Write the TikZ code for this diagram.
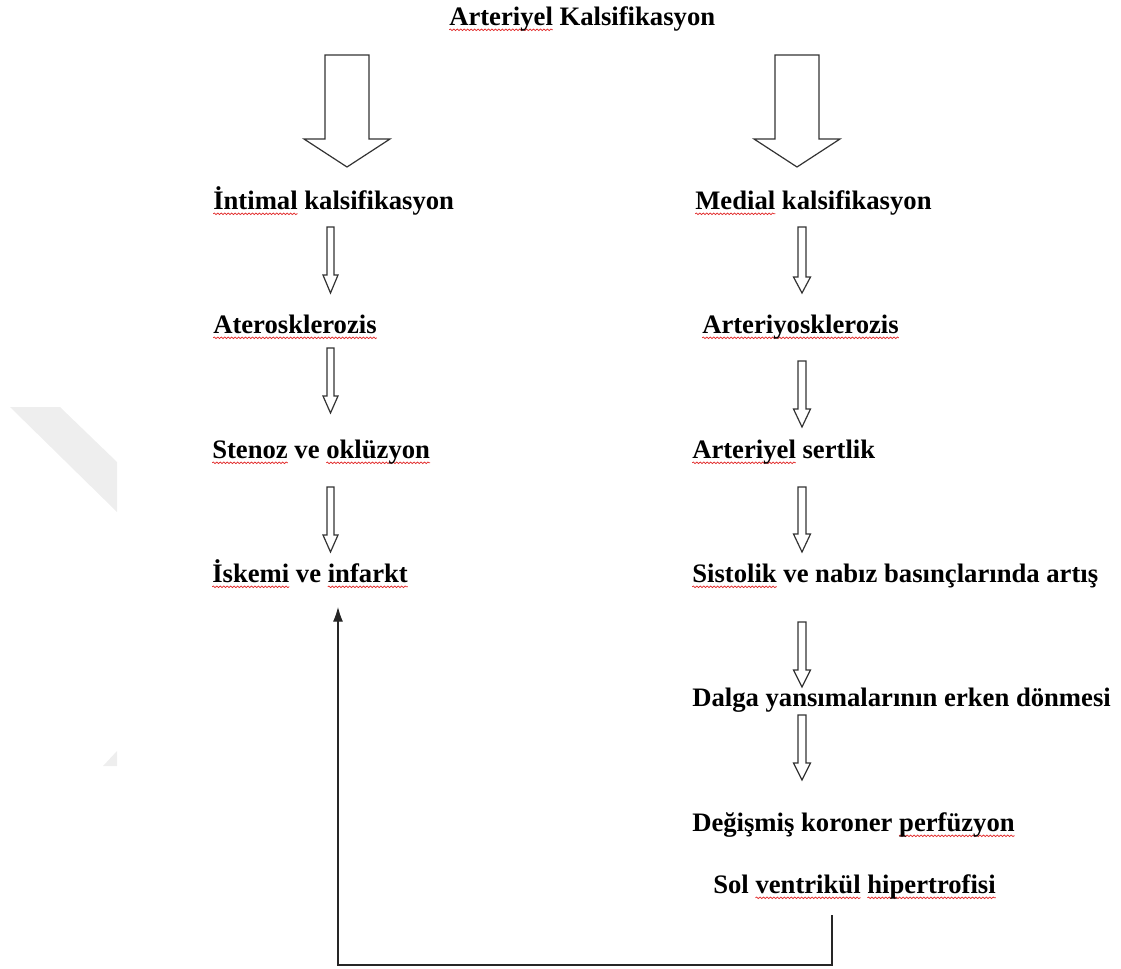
\documentclass[tikz,border=0pt]{standalone}
\usepackage{fontspec}
\setmainfont{Liberation Serif}
\usetikzlibrary{arrows.meta,decorations.pathmorphing}
\definecolor{wm}{RGB}{238,238,238}
\definecolor{sqred}{RGB}{225,40,40}
\newsavebox\sqbox
\newcommand\sq[1]{\sbox\sqbox{#1}\leavevmode\rlap{\tikz[baseline=0pt,x=1pt,y=1pt]{\useasboundingbox (0pt,0pt); \draw[sqred,line width=0.55pt,decorate,decoration={snake,amplitude=0.6pt,segment length=2.6pt}] (0pt,-3.6pt) -- (\the\wd\sqbox,-3.6pt);}}\usebox\sqbox}
% block arrow: cx, shaft half width, head half width, top, neck, tip
\newcommand\barrow[6]{\draw[barrowstyle] ({#1-#2},#4) -- ({#1+#2},#4) -- ({#1+#2},#5) -- ({#1+#3},#5) -- (#1,#6) -- ({#1-#3},#5) -- ({#1-#2},#5) -- cycle;}
\tikzset{
  lbl/.style={inner sep=0pt, anchor=base west, font=\fontsize{20}{24}\selectfont\bfseries},
  barrowstyle/.style={draw=black!80, line width=0.9pt, fill=white, line join=miter},
  fb/.style={draw=black!85, line width=0.8pt},
}
\begin{document}
\begin{tikzpicture}[x=0.75pt,y=-0.75pt]
\useasboundingbox (0,0) rectangle (1121,968);
% faint watermark
\fill[wm] (10,407) -- (60,407) -- (117,462) -- (117,512) -- cycle;
\fill[wm] (117,751) -- (117,766) -- (103,766) -- cycle;

% title
\node[lbl] (title) at (449,25) {\sq{Arteriyel} Kalsifikasyon};

% big arrows
\barrow{347}{22}{43}{55}{139}{167}
\barrow{797}{22}{43}{55}{139}{167}

% left column
\node[lbl] (intimal) at (213,209) {\sq{İntimal} kalsifikasyon};
\node[lbl] (ateros) at (213,333) {\sq{Aterosklerozis}};
\node[lbl] (stenoz) at (212,458) {\sq{Stenoz} ve \sq{oklüzyon}};
\node[lbl] (iskemi) at (212,582) {\sq{İskemi} ve \sq{infarkt}};

% right column
\node[lbl] (medial) at (695,209) {\sq{Medial} kalsifikasyon};
\node[lbl] (arterio) at (702,333) {\sq{Arteriyosklerozis}};
\node[lbl] (sertlik) at (692,458) {\sq{Arteriyel} sertlik};
\node[lbl] (sistolik) at (692,582) {\sq{Sistolik} ve nabız basınçlarında artış};
\node[lbl] (dalga) at (692,706) {Dalga yansımalarının erken dönmesi};
\node[lbl] (degismis) at (692,831) {Değişmiş koroner \sq{perfüzyon}};
\node[lbl] (sol) at (713,893) {Sol \sq{ventrikül} \sq{hipertrofisi}};

% small arrows left
\barrow{330.5}{3.5}{7.5}{227}{275}{293}
\barrow{330.5}{3.5}{7.5}{348}{396}{413}
\barrow{330.5}{3.5}{7.5}{487}{535}{552}
% small arrows right
\barrow{802}{4}{8.5}{227}{277}{293}
\barrow{802}{4}{8.5}{361}{409}{427}
\barrow{802}{4}{8.5}{487}{534}{552}
\barrow{802}{4}{8.5}{622}{670}{687}
\barrow{802}{4}{8.5}{715}{763}{780}

% feedback connector
\coordinate (fbstart) at (832,915);
\coordinate (fbend) at (338,607);
\coordinate (fbc1) at (832,965);
\coordinate (fbc2) at (338,965);
\draw[fb,-{Latex[length=11pt,width=7.5pt]}] (fbstart) -- (fbc1) -- (fbc2) -- (fbend);
\end{tikzpicture}
\end{document}
